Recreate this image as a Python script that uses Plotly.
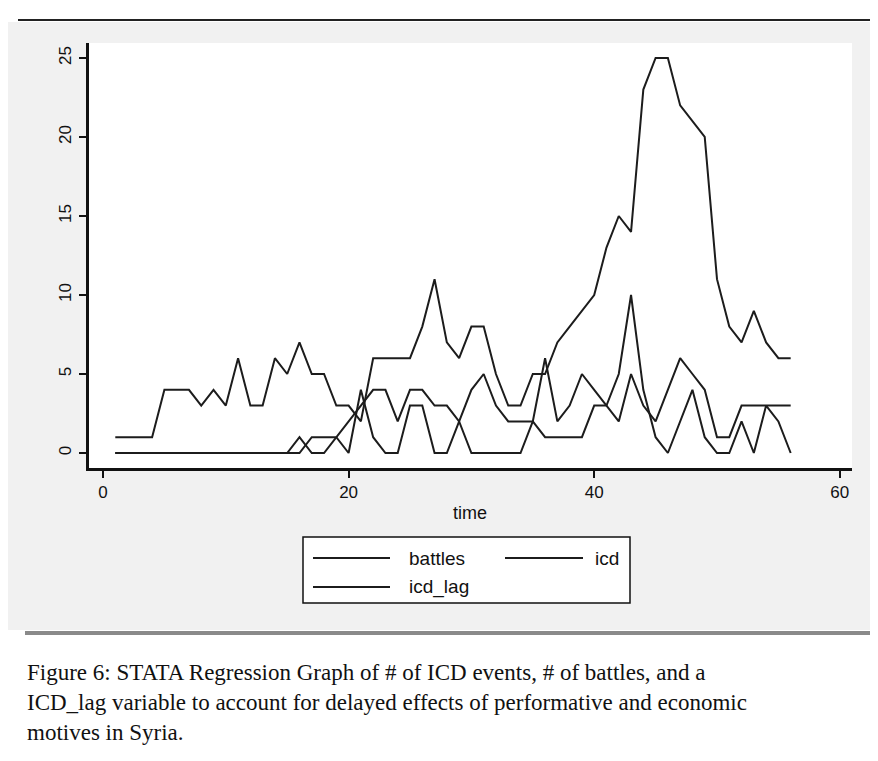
import plotly.graph_objects as go

time = list(range(1, 57))

battles = [1, 1, 1, 1, 4, 4, 4, 3, 4, 3,
           6, 3, 3, 6, 5, 7, 5, 5, 3, 3,
           2, 6, 6, 6, 6, 8, 11, 7, 6, 8,
           8, 5, 3, 3, 5, 5, 7, 8, 9, 10,
           13, 15, 14, 23, 25, 25, 22, 21, 20, 11,
           8, 7, 9, 7, 6, 6]

icd = [0, 0, 0, 0, 0, 0, 0, 0, 0, 0,
       0, 0, 0, 0, 0, 1, 0, 0, 1, 2,
       3, 4, 4, 2, 4, 4, 3, 3, 2, 0,
       0, 0, 0, 0, 2, 1, 1, 1, 1, 3,
       3, 5, 10, 4, 1, 0, 2, 4, 1, 0,
       0, 2, 0, 3, 2, 0]

icd_lag = [0, 0, 0, 0, 0, 0, 0, 0, 0, 0,
           0, 0, 0, 0, 0, 0, 1, 1, 1, 0,
           4, 1, 0, 0, 3, 3, 0, 0, 2, 4,
           5, 3, 2, 2, 2, 6, 2, 3, 5, 4,
           3, 2, 5, 3, 2, 4, 6, 5, 4, 1,
           1, 3, 3, 3, 3, 3]

x_ticks = [0, 20, 40, 60]
y_ticks = [0, 5, 10, 15, 20, 25]
series_names = ["battles", "icd", "icd_lag"]
caption_lines = [
    "Figure 6: STATA Regression Graph of # of ICD events, # of battles, and a",
    "ICD_lag variable to account for delayed effects of performative and economic",
    "motives in Syria.",
]

# page is rendered with an 8px body margin; figure is shrunk to compensate
OFF = 8
PW, PH = 878, 761
W, H = PW - OFF, PH - OFF
L, R, T, B = 89, 852, 43, 468          # plot area in page pixels
line_col = "#1c1c1c"
sans = "Liberation Sans, Arial"
serif = "Liberation Serif, Times New Roman"

fig = go.Figure()
for name, vals in zip(series_names, [battles, icd, icd_lag]):
    fig.add_trace(go.Scatter(x=time, y=vals, mode="lines", name=name,
                             line=dict(color=line_col, width=2),
                             showlegend=False))

# page pixel -> paper coordinate (paper spans the plot area)
def px(x):
    return (x - L) / (R - L)

def py(y):
    return (B - y) / (B - T)

shapes = []
shapes.append(dict(type="rect", xref="paper", yref="paper", layer="below",
                   x0=px(8), x1=px(878), y0=py(630), y1=py(22),
                   fillcolor="#f1f1f1", line=dict(width=0)))
shapes.append(dict(type="rect", xref="paper", yref="paper", layer="below",
                   x0=px(L), x1=px(R), y0=py(B), y1=py(T),
                   fillcolor="white", line=dict(width=0)))
shapes.append(dict(type="line", xref="paper", yref="paper",
                   x0=px(6), x1=px(6), y0=py(761), y1=py(8),
                   line=dict(color="#333333", width=2)))
shapes.append(dict(type="line", xref="paper", yref="paper",
                   x0=px(6), x1=px(878), y0=py(7), y1=py(7),
                   line=dict(color="#777777", width=2)))
shapes.append(dict(type="line", xref="paper", yref="paper",
                   x0=px(18), x1=px(872), y0=py(20), y1=py(20),
                   line=dict(color="#222222", width=2)))
shapes.append(dict(type="line", xref="paper", yref="paper",
                   x0=px(25), x1=px(872), y0=py(633), y1=py(633),
                   line=dict(color="#8a8a8a", width=4)))
lx0, lx1, ly0, ly1 = 303, 630, 537, 603
shapes.append(dict(type="rect", xref="paper", yref="paper",
                   x0=px(lx0), x1=px(lx1), y0=py(ly1), y1=py(ly0),
                   fillcolor="white", line=dict(color="#111111", width=1.5)))
legend_items = [(series_names[0], 313, 390, 407, 558),
                (series_names[1], 505, 583, 593, 558),
                (series_names[2], 313, 390, 407, 587)]
annotations = []
for name, a, b, tx, yy in legend_items:
    shapes.append(dict(type="line", xref="paper", yref="paper",
                       x0=px(a), x1=px(b), y0=py(yy), y1=py(yy),
                       line=dict(color=line_col, width=2)))
    annotations.append(dict(x=px(tx), y=py(yy), xref="paper", yref="paper",
                            text=name, showarrow=False, xanchor="left",
                            yanchor="middle",
                            font=dict(family=sans, size=19, color="#111111")))

for i, line in enumerate(caption_lines):
    annotations.append(dict(x=px(25), y=py(672 + 30 * i), xref="paper", yref="paper",
                            text=line, showarrow=False, xanchor="left",
                            yanchor="middle",
                            font=dict(family=serif, size=23, color="#111111")))

annotations.append(dict(x=px(470), y=py(513), xref="paper", yref="paper",
                        text="time", showarrow=False, xanchor="center",
                        yanchor="middle",
                        font=dict(family=sans, size=18, color="#111111")))

x0v = (L - 103) / 12.28
x1v = (R - 103) / 12.28
y0v = (453 - B) / 15.8
y1v = (453 - T) / 15.8

fig.update_layout(
    width=W, height=H,
    margin=dict(l=L - OFF, r=PW - R, t=T - OFF, b=PH - B, pad=0),
    paper_bgcolor="white",
    plot_bgcolor="rgba(0,0,0,0)",
    showlegend=False,
    shapes=shapes,
    annotations=annotations,
    xaxis=dict(range=[x0v, x1v], tickvals=x_ticks, ticks="outside", ticklen=7,
               tickwidth=1.5, tickcolor="#111111", showgrid=False, zeroline=False,
               showline=True, linecolor="#111111", linewidth=2.5,
               ticklabelstandoff=0,
               tickfont=dict(family=sans, size=17, color="#111111")),
    yaxis=dict(range=[y0v, y1v], tickvals=y_ticks, ticks="outside", ticklen=7,
               tickwidth=1.5, tickcolor="#111111", showgrid=False, zeroline=False,
               showline=True, linecolor="#111111", linewidth=2.5,
               tickangle=-90, ticklabelstandoff=1,
               tickfont=dict(family=sans, size=17, color="#111111")),
)

fig.write_html("out.html")
